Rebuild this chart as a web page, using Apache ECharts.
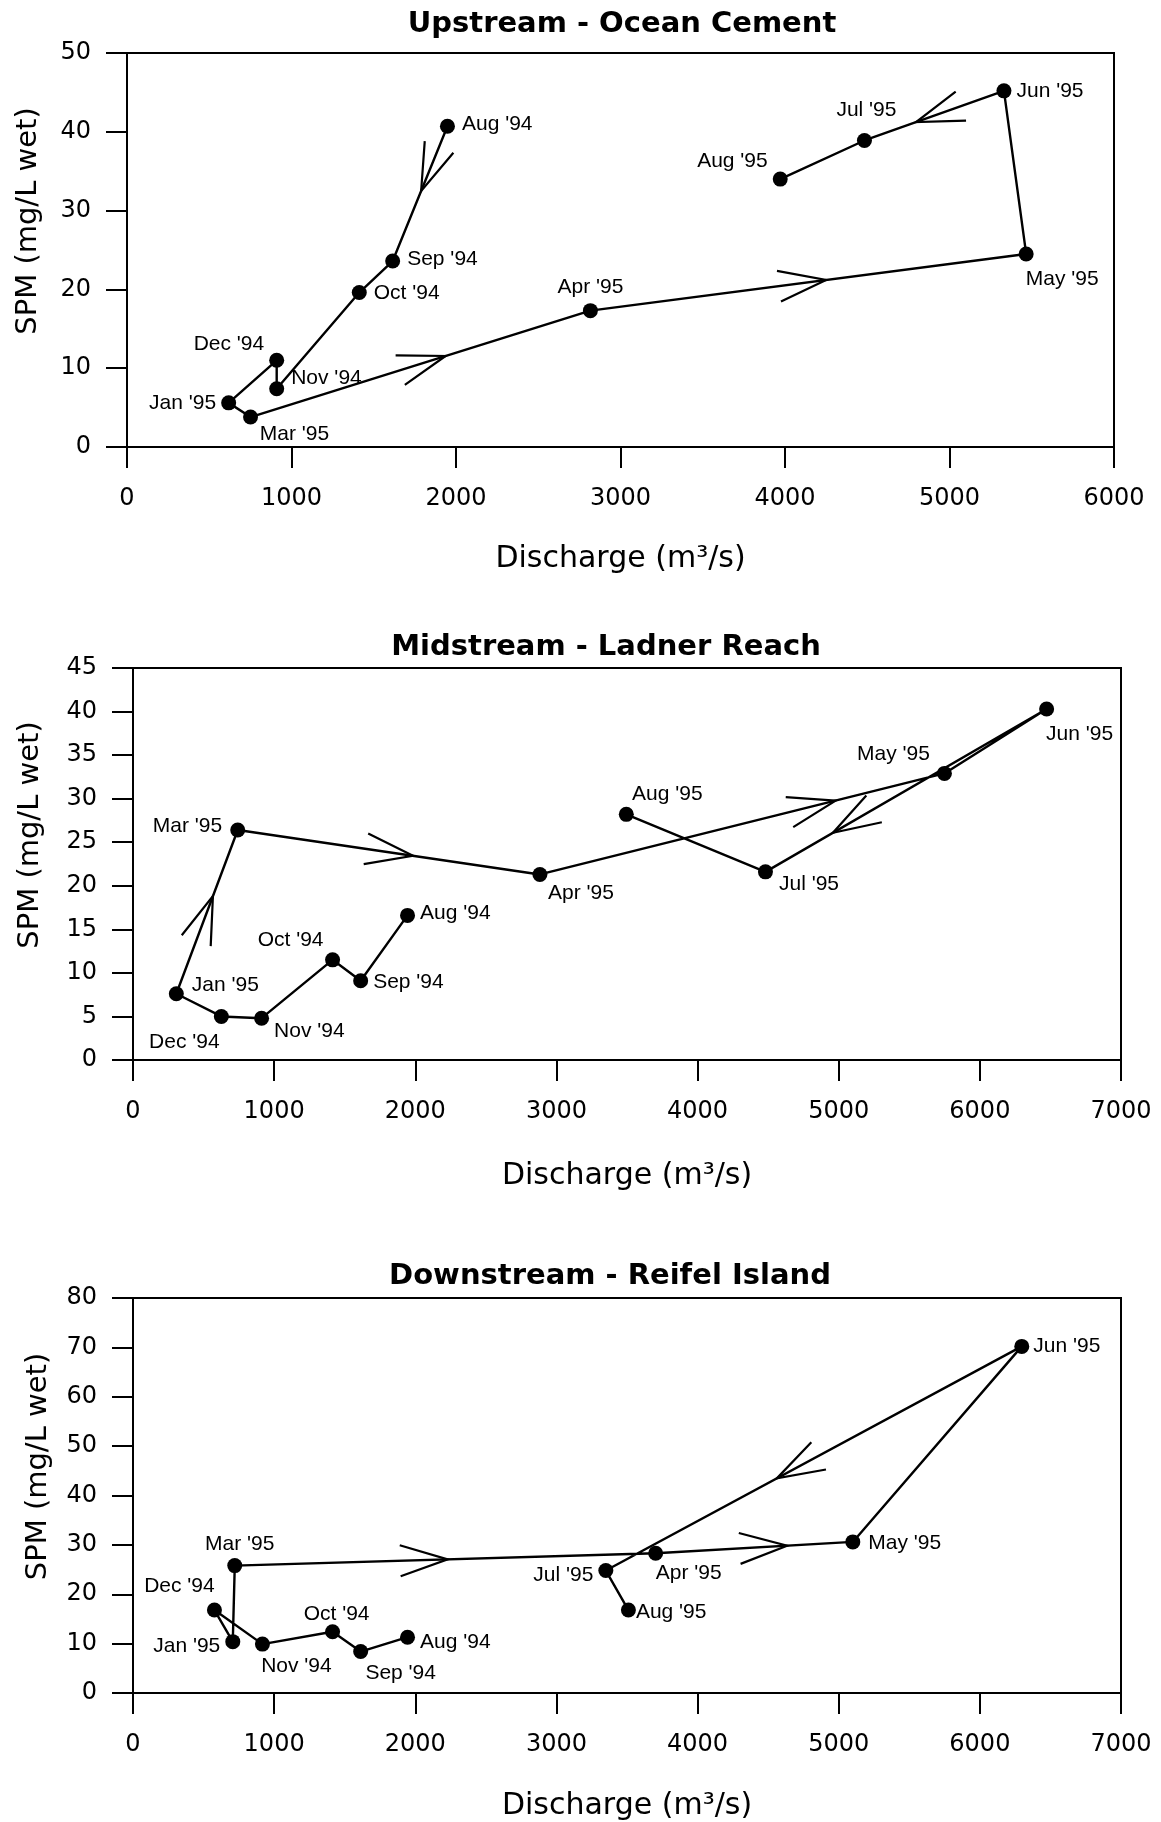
<!DOCTYPE html>
<html><head><meta charset="utf-8">
<script src="https://cdn.jsdelivr.net/npm/echarts@6/dist/echarts.min.js"></script>
<style>html,body{margin:0;padding:0;background:#fff}#c{width:1161px;height:1822px}</style>
</head><body><div id="c"></div>
<script>
// ---------- DATA ----------
const months = ["Aug '94","Sep '94","Oct '94","Nov '94","Dec '94","Jan '95","Mar '95","Apr '95","May '95","Jun '95","Jul '95","Aug '95"];

const upDischarge   = [1948,1615,1412, 910, 910, 618, 751,2817,5466,5331,4483,3971];
const upSPM         = [40.7,23.6,19.6, 7.4,11.0, 5.6, 3.8,17.3,24.5,45.2,38.9,34.0];

const midDischarge  = [1945,1613,1414, 911, 626, 307, 742,2883,5749,6473,4481,3495];
const midSPM        = [16.6, 9.1,11.5, 4.8, 5.0, 7.6,26.4,21.3,32.9,40.3,21.6,28.2];

const downDischarge = [1945,1613,1414, 917, 577, 707, 721,3703,5100,6297,3350,3510];
const downSPM       = [11.3, 8.4,12.4, 9.9,16.8,10.4,25.8,28.3,30.6,70.2,24.8,16.8];

// direction arrows: [index of segment start point, fraction along the segment]
const upArrows   = [[0,0.48],[6,0.574],[7,0.541],[9,0.63]];
const midArrows  = [[5,0.596],[6,0.58],[7,0.731],[9,0.76]];
const downArrows = [[6,0.506],[7,0.667],[9,0.589]];

const titles = ['Upstream - Ocean Cement','Midstream - Ladner Reach','Downstream - Reifel Island'];
const upXTicks   = [0,1000,2000,3000,4000,5000,6000];
const midXTicks  = [0,1000,2000,3000,4000,5000,6000,7000];
const downXTicks = [0,1000,2000,3000,4000,5000,6000,7000];
const upYTicks   = [0,10,20,30,40,50];
const midYTicks  = [0,5,10,15,20,25,30,35,40,45];
const downYTicks = [0,10,20,30,40,50,60,70,80];
const xName = 'Discharge (m³/s)';
const yName = 'SPM (mg/L wet)';

// ---------- LAYOUT / STYLE ----------
const FONT = 'DejaVu Sans';
const LFONT = 'Liberation Sans';
const layouts = [
  {left:127, top:53,   width:987, height:394, titleTop:10,   titleX:622, xNameGap:97,  yNameGap:84},
  {left:133, top:668,  width:988, height:392, titleTop:633,  titleX:606, xNameGap:101, yNameGap:88},
  {left:133, top:1298, width:988, height:395, titleTop:1262, titleX:610, xNameGap:98,  yNameGap:80}
];
const upLabelPos = [['right',[2,-2]],['right',[2,-2]],['right',[2,1]],['right',[2,-10]],['left',[0,-16]],['left',[0,0]],
  ['bottom',[44,-6]],['top',[0,0]],['bottom',[36,2]],['right',[0,0]],['top',[2,-7]],['left',[0,-18]]];
const midLabelPos = [['right',[0,-2]],['right',[0,1]],['top',[-42,3]],['right',[0,13]],['bottom',[-37,3]],['right',[3,-9]],
  ['left',[-3,-4]],['bottom',[41,-4]],['left',[-2,-19]],['bottom',[33,2]],['right',[1,12]],['top',[41,3]]];
const downLabelPos = [['right',[0,5]],['bottom',[40,-1]],['top',[4,5]],['bottom',[34,-1]],['top',[-35,-1]],['left',[0,5]],
  ['top',[5,2]],['bottom',[33,-3]],['right',[3,1]],['right',[-1,0]],['left',[0,5]],['right',[-5,2]]];

const panels = [
  {xs:upDischarge, ys:upSPM, arrows:upArrows, lp:upLabelPos, xt:upXTicks, yt:upYTicks},
  {xs:midDischarge, ys:midSPM, arrows:midArrows, lp:midLabelPos, xt:midXTicks, yt:midYTicks},
  {xs:downDischarge, ys:downSPM, arrows:downArrows, lp:downLabelPos, xt:downXTicks, yt:downYTicks}
];

const plain = v => String(v);
const grid = [], xAxis = [], yAxis = [], series = [], title = [];
panels.forEach((p, gi) => {
  const L = layouts[gi];
  grid.push({left:L.left, top:L.top, width:L.width, height:L.height, containLabel:false, outerBoundsMode:'none',
    show:true, borderColor:'#000', borderWidth:2, backgroundColor:'transparent'});
  title.push({text:titles[gi], left:L.titleX, top:L.titleTop, textAlign:'center', padding:0,
    textStyle:{fontFamily:FONT, fontWeight:'bold', fontSize:29, color:'#000'}});
  xAxis.push({gridIndex:gi, type:'value', min:p.xt[0], max:p.xt[p.xt.length-1], interval:p.xt[1]-p.xt[0],
    axisLine:{show:true, onZero:false, lineStyle:{color:'#000', width:2}},
    axisTick:{show:true, inside:false, length:21, lineStyle:{color:'#000', width:2}},
    axisLabel:{color:'#000', fontFamily:FONT, fontSize:24, margin:40, formatter:plain},
    splitLine:{show:false},
    name:xName, nameLocation:'middle', nameGap:L.xNameGap,
    nameTextStyle:{color:'#000', fontFamily:FONT, fontSize:30}});
  yAxis.push({gridIndex:gi, type:'value', min:p.yt[0], max:p.yt[p.yt.length-1], interval:p.yt[1]-p.yt[0],
    axisLine:{show:true, onZero:false, lineStyle:{color:'#000', width:2}},
    axisTick:{show:true, inside:false, length:21, lineStyle:{color:'#000', width:2}},
    axisLabel:{color:'#000', fontFamily:FONT, fontSize:24, margin:36, formatter:plain},
    splitLine:{show:false},
    name:yName, nameLocation:'middle', nameGap:L.yNameGap,
    nameTextStyle:{color:'#000', fontFamily:FONT, fontSize:29, padding:[0,0,0,58]}});
  const data = p.xs.map((x, i) => ({value:[x, p.ys[i]], name:months[i],
    label:{position:p.lp[i][0], offset:p.lp[i][1]}}));
  series.push({type:'line', xAxisIndex:gi, yAxisIndex:gi, data:data, symbol:'circle', symbolSize:15,
    showAllSymbol:true, itemStyle:{color:'#000'}, lineStyle:{color:'#000', width:2.4}, z:3,
    label:{show:true, formatter:'{b}', color:'#000', fontFamily:LFONT, fontSize:21, distance:5}});
  series.push({type:'custom', xAxisIndex:gi, yAxisIndex:gi, data:p.arrows, z:2,
    renderItem:function(params, api){
      const i = api.value(0), t = api.value(1);
      const a = api.coord([p.xs[i], p.ys[i]]), b = api.coord([p.xs[i+1], p.ys[i+1]]);
      const dx = b[0]-a[0], dy = b[1]-a[1], len = Math.hypot(dx, dy);
      const bx = -dx/len, by = -dy/len;
      const tip = [a[0]+dx*t, a[1]+dy*t];
      const Lh = 50, th = 18*Math.PI/180, c = Math.cos(th), s = Math.sin(th);
      const p1 = [tip[0]+Lh*(bx*c - by*s), tip[1]+Lh*(bx*s + by*c)];
      const p2 = [tip[0]+Lh*(bx*c + by*s), tip[1]+Lh*(-bx*s + by*c)];
      return {type:'polyline', shape:{points:[p1, tip, p2]}, style:{stroke:'#000', lineWidth:2.2, fill:'none'}};
    }});
});

const chart = echarts.init(document.getElementById('c'), null, {renderer:'canvas'});
chart.setOption({animation:false, backgroundColor:'#fff', textStyle:{fontFamily:FONT},
  title, grid, xAxis, yAxis, series});
</script>
</body></html>
